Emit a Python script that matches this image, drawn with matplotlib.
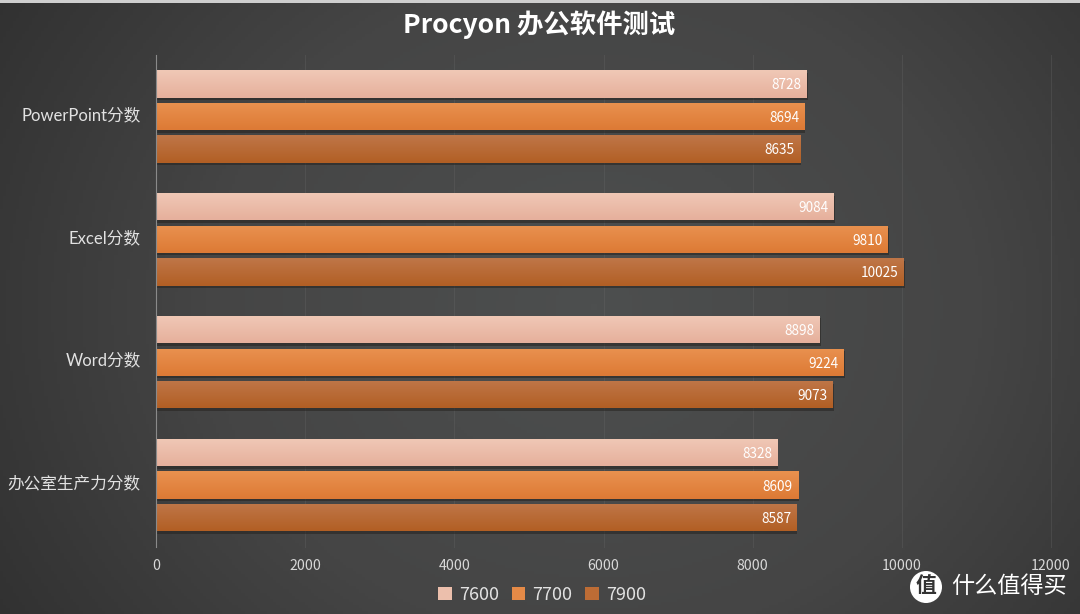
import numpy as np
import matplotlib.pyplot as plt
from matplotlib.colors import LinearSegmentedColormap
from matplotlib.patches import Circle, Patch
from matplotlib.transforms import ScaledTranslation

plt.rcParams["font.family"] = ["Noto Sans CJK SC", "DejaVu Sans"]

title = "Procyon 办公软件测试"
categories = ["PowerPoint分数", "Excel分数", "Word分数", "办公室生产力分数"]
series_names = ["7600", "7700", "7900"]
scores_7600 = [8728, 9084, 8898, 8328]
scores_7700 = [8694, 9810, 9224, 8609]
scores_7900 = [8635, 10025, 9073, 8587]
x_ticks = [0, 2000, 4000, 6000, 8000, 10000, 12000]

W, H = 1080, 614
fig = plt.figure(figsize=(W / 100, H / 100), dpi=100)

# 背景：中间亮、四周暗
bg_ax = fig.add_axes([0, 0, 1, 1], zorder=0)
yy, xx = np.mgrid[0:1:200j, 0:1:340j]
dist = np.sqrt(((xx - 0.55) / 0.72) ** 2 + ((yy - 0.5) / 1.1) ** 2)
bg_cmap = LinearSegmentedColormap.from_list("bg", ["#4d4f4f", "#454545", "#2c2c2c"])
bg_ax.imshow(dist, cmap=bg_cmap, vmin=0, vmax=1, aspect="auto", extent=[0, 1, 0, 1])
bg_ax.axhspan(0.995, 1, color="#cfcfcf", lw=0)
bg_ax.axis("off")

# 坐标轴位置按像素算
left, right, top, bottom = 156, 1051, 55, 546.5
ax = fig.add_axes([left / W, 1 - bottom / H, (right - left) / W, (bottom - top) / H], zorder=1)
ax.patch.set_alpha(0)

bar_h = 0.222
offsets = [-0.265, 0, 0.265]
all_scores = [scores_7600, scores_7700, scores_7900]
bar_colors = [
    ["#f0c8b6", "#e6b09c"],
    ["#e9914f", "#dd7a35"],
    ["#bf7648", "#b25f24"],
]
legend_colors = ["#ecbfac", "#e58a47", "#bd6c35"]
shadow_shift = ScaledTranslation(1 / 100, -2.5 / 100, fig.dpi_scale_trans)
label_shift = ScaledTranslation(0, -1.5 / 100, fig.dpi_scale_trans)

for scores, off, cols in zip(all_scores, offsets, bar_colors):
    y = np.arange(len(categories)) + off
    # 阴影
    ax.barh(y, scores, height=bar_h, color="#262320", alpha=0.55, zorder=2,
            transform=ax.transData + shadow_shift)
    bars = ax.barh(y, scores, height=bar_h, color=cols[1], zorder=3)
    cmap = LinearSegmentedColormap.from_list("bar", [cols[0], cols[1]])
    for rect, val in zip(bars, scores):
        y0, y1 = rect.get_y(), rect.get_y() + rect.get_height()
        im = ax.imshow(np.linspace(0, 1, 40).reshape(-1, 1), cmap=cmap, aspect="auto",
                       extent=[0, val, y1, y0], zorder=4)
        im.set_clip_path(rect)
        ax.text(val - 70, (y0 + y1) / 2, str(val), color="white", fontsize=9.8,
                ha="right", va="center", zorder=5,
                transform=ax.transData + label_shift)

ax.set_xlim(0, 12000)
ax.set_ylim(3.5, -0.5)

ax.set_xticks(x_ticks)
ax.set_yticks(range(len(categories)))
ax.set_yticklabels(categories, fontsize=12, color="#e2e2e2",
                   family=["Lato", "Noto Sans CJK SC"])
ax.tick_params(axis="x", length=0, pad=9, labelsize=10.2, labelcolor="#d8d8d8")
ax.tick_params(axis="y", length=0, pad=11)
# 分类标签往上挪一点
ylabel_shift = ScaledTranslation(0, 3 / 100, fig.dpi_scale_trans)
for lab in ax.get_yticklabels():
    lab.set_transform(lab.get_transform() + ylabel_shift)
ax.grid(axis="x", color="#6a6a6a", linewidth=0.8, alpha=0.3, zorder=1)
for line in ax.get_xgridlines():
    line.set_clip_on(False)
ax.set_axisbelow(True)
for name, spine in ax.spines.items():
    spine.set_visible(name == "left")
ax.spines["left"].set_color("#8a8a8a")
ax.spines["left"].set_zorder(6)

fig.text(539 / W, 1 - 25 / H, title, color="white", fontsize=19, fontweight="bold",
         ha="center", va="center", zorder=3)

handles = [Patch(facecolor=c, edgecolor="none") for c in legend_colors]
fig.legend(handles, series_names, loc="center", bbox_to_anchor=(542 / W, 1 - 595 / H),
           ncol=3, frameon=False, fontsize=13, labelcolor="#e2e2e2",
           handlelength=0.75, handleheight=0.75, handletextpad=0.4, columnspacing=0.7)

# 水印
wm_ax = fig.add_axes([0, 0, 1, 1], zorder=4)
wm_ax.set_xlim(0, W)
wm_ax.set_ylim(H, 0)
wm_ax.axis("off")
wm_ax.add_patch(Circle((926, 587), 16, color="white", lw=0))
wm_ax.text(926, 586, "值", color="#333333", fontsize=15, fontweight="bold", ha="center", va="center")
wm_ax.text(1009, 586, "什么值得买", color="white", fontsize=16.7, ha="center", va="center")

fig.savefig("out.png", dpi=100)
